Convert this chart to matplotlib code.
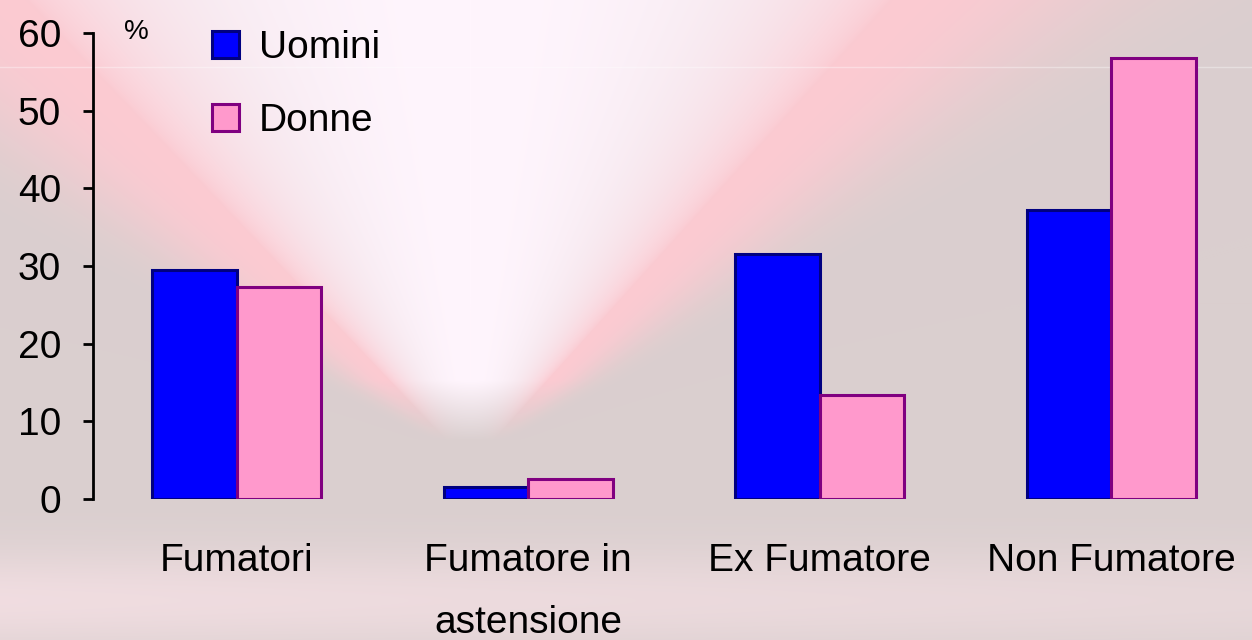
import numpy as np
import matplotlib.pyplot as plt

plt.rcParams['font.family'] = ['Liberation Sans', 'DejaVu Sans']

categories = ["Fumatori", "Fumatore in\nastensione", "Ex Fumatore", "Non Fumatore"]
series_names = ["Uomini", "Donne"]
uomini = [29.5, 1.5, 31.5, 37.2]
donne = [27.3, 2.6, 13.4, 56.8]
y_ticks = [0, 10, 20, 30, 40, 50, 60]

W, H = 1252, 640
fig = plt.figure(figsize=(W / 100, H / 100), dpi=100)

# soft pink "V" glow background, roughly like the slide picture
yy, xx = np.mgrid[0:H, 0:W].astype(float)
base = np.array([218, 207, 207]) / 255
pink = np.array([255, 202, 210]) / 255
white = np.array([255, 245, 253]) / 255
band = np.array([255, 230, 236]) / 255

vx, vy = 470.0, 440.0
dy = np.clip(vy - yy, 0, None) + 25
dx = xx - vx
k = np.where(dx < 0, 1.0, 0.95)
s = np.abs(dx) / (k * dy)
up = np.clip((vy - yy) / 60, 0, 1)
p = np.exp(-((s - 1.0) / 0.45) ** 2) * up
w = np.clip(1.0 - (s / 0.95) ** 2, 0, 1) ** 0.7 * up
b = 0.6 * np.exp(-((yy - 600) / 50) ** 2) * (1 - 0.4 * xx / W)

img = np.ones((H, W, 3)) * base
img = img * (1 - p[..., None] * 0.9) + pink * (p[..., None] * 0.9)
img = img * (1 - w[..., None]) + white * w[..., None]
img = img * (1 - b[..., None]) + band * b[..., None]

bg = fig.add_axes([0, 0, 1, 1])
bg.imshow(img, aspect='auto', extent=[0, W, H, 0], interpolation='bilinear')
bg.axhline(67, color='white', lw=1, alpha=0.35)
bg.set_xlim(0, W)
bg.set_ylim(H, 0)
bg.axis('off')

ax = fig.add_axes([93 / W, 141 / H, 1159 / W, 466 / H])
ax.patch.set_alpha(0)

x = np.arange(len(categories))
bw = 0.29
ax.bar(x - bw / 2, uomini, bw, color='#0000ff', edgecolor='#000080',
       linewidth=2.2, label=series_names[0])
ax.bar(x + bw / 2, donne, bw, color='#ff99cc', edgecolor='#800080',
       linewidth=2.2, label=series_names[1])

ax.set_xlim(-0.493, 3.483)
ax.set_ylim(0, 60)
ax.set_yticks(y_ticks)
ax.set_xticks(x)
ax.set_xticklabels(categories)
for lbl in ax.get_xticklabels():
    lbl.set_linespacing(1.9)

for side in ['top', 'right', 'bottom']:
    ax.spines[side].set_visible(False)
ax.spines['left'].set_linewidth(2)
ax.tick_params(axis='y', direction='out', length=7, width=2, labelsize=28, pad=16)
ax.tick_params(axis='x', length=0, labelsize=28, pad=32)

ax.legend(loc='upper left', bbox_to_anchor=(212 / W, 1 - 30 / H),
          bbox_transform=fig.transFigure, frameon=False, fontsize=28,
          handlelength=0.7, handleheight=0.7, handletextpad=0.5,
          labelspacing=0.95, borderpad=0, borderaxespad=0)

fig.text(124 / W, 1 - 32 / H, "%", fontsize=20, va='center', ha='left')

fig.savefig("out.png", dpi=100)
